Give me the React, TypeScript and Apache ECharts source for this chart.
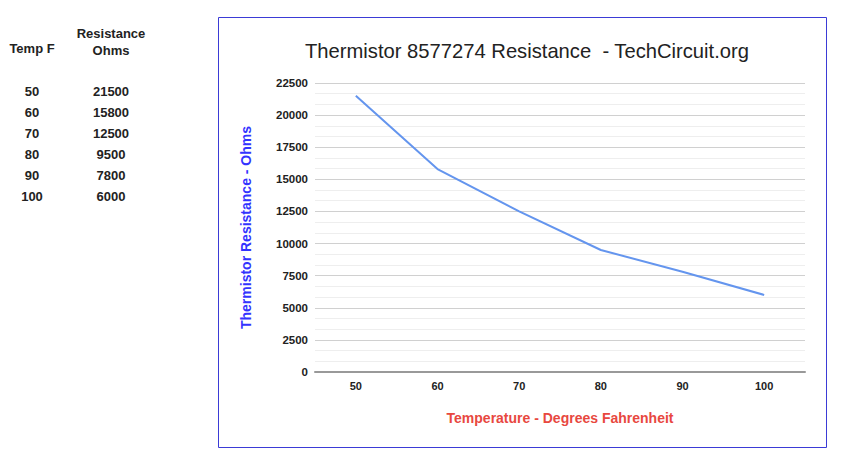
import React, { useEffect, useRef } from "react";
import * as echarts from "echarts";

const temps = ["50", "60", "70", "80", "90", "100"];
const resistance = [21500, 15800, 12500, 9500, 7800, 6000];
const tableHeaderTemp = "Temp F";
const tableHeaderRes = ["Resistance", "Ohms"];

export default function App() {
  const ref = useRef<HTMLDivElement>(null);
  useEffect(() => {
    if (!ref.current) return;
    const chart = echarts.init(ref.current, undefined, { renderer: "svg" });
    const font = "'Liberation Sans', Arial, sans-serif";
    const tableTexts: any[] = [];
    const tf = `bold 13px ${font}`;
    tableTexts.push({
      type: "text", x: 32, y: 48,
      style: { text: tableHeaderTemp, font: tf, fill: "#222", align: "center", verticalAlign: "middle" },
    });
    tableHeaderRes.forEach((t, i) => {
      tableTexts.push({
        type: "text", x: 111, y: 33 + i * 17,
        style: { text: t, font: tf, fill: "#222", align: "center", verticalAlign: "middle" },
      });
    });
    temps.forEach((t, i) => {
      tableTexts.push({
        type: "text", x: 32, y: 91 + i * 21,
        style: { text: t, font: tf, fill: "#222", align: "center", verticalAlign: "middle" },
      });
      tableTexts.push({
        type: "text", x: 111, y: 91 + i * 21,
        style: { text: String(resistance[i]), font: tf, fill: "#222", align: "center", verticalAlign: "middle" },
      });
    });
    chart.setOption({
      animation: false,
      backgroundColor: "#fff",
      title: {
        text: "Thermistor 8577274 Resistance  - TechCircuit.org",
        left: 522,
        top: 36,
        textAlign: "center",
        textStyle: { fontFamily: font, fontSize: 20.2, fontWeight: "normal", color: "#222" },
      },
      graphic: [
        {
          type: "rect",
          shape: { x: 218.5, y: 17.5, width: 608, height: 430 },
          style: { fill: "none", stroke: "#3b3bd6", lineWidth: 1 },
          silent: true,
        },
        ...tableTexts,
      ],
      grid: { left: 315, right: 40, top: 83, bottom: 92 },
      xAxis: {
        type: "category",
        data: temps,
        boundaryGap: true,
        name: "Temperature - Degrees Fahrenheit",
        nameLocation: "middle",
        nameGap: 39,
        nameTextStyle: { fontFamily: font, fontSize: 14, fontWeight: "bold", color: "#e8483f", verticalAlign: "top" },
        axisLine: { show: true, lineStyle: { color: "#999", width: 2 } },
        axisTick: { show: false },
        axisLabel: { fontFamily: font, fontSize: 11, fontWeight: "bold", color: "#222", margin: 8 },
        splitLine: { show: false },
      },
      yAxis: {
        type: "value",
        min: 0,
        max: 22500,
        interval: 2500,
        name: "Thermistor Resistance - Ohms",
        nameLocation: "middle",
        nameGap: 62,
        nameTextStyle: { fontFamily: font, fontSize: 14, fontWeight: "bold", color: "#3333ff" },
        axisLine: { show: false },
        axisTick: { show: false },
        axisLabel: {
          fontFamily: font, fontSize: 11.5, fontWeight: "bold", color: "#222", margin: 7,
          formatter: (v: number) => String(v),
        },
        splitLine: { show: true, lineStyle: { color: "#d0d0d0", width: 1 } },
        minorTick: { show: false, splitNumber: 3 },
        minorSplitLine: { show: true, lineStyle: { color: "#eeeeee", width: 1 } },
      },
      series: [
        {
          type: "line",
          data: resistance,
          showSymbol: false,
          symbol: "none",
          lineStyle: { color: "#6495ee", width: 2 },
          itemStyle: { color: "#6495ee" },
        },
      ],
    });
    return () => chart.dispose();
  }, []);
  return <div ref={ref} style={{ position: "absolute", left: 0, top: 0, width: 845, height: 464 }} />;
}
